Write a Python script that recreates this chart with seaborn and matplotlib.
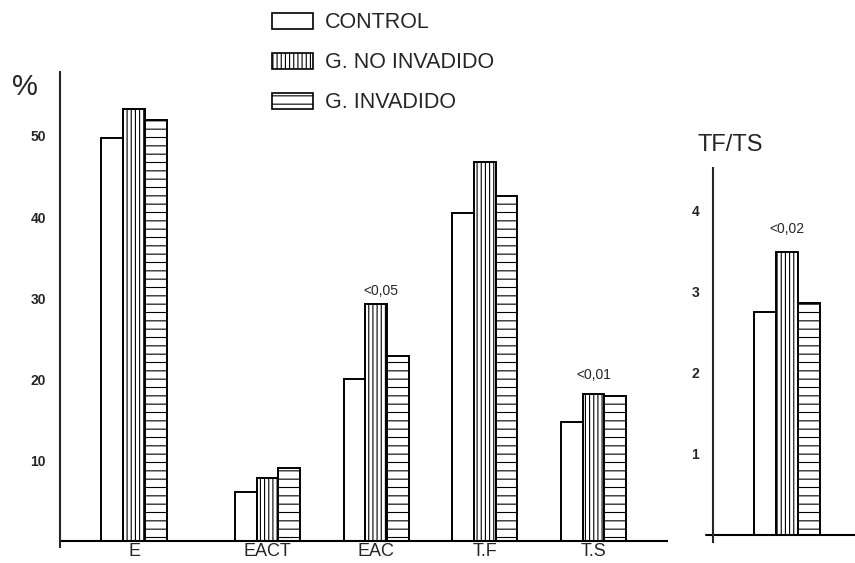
import matplotlib
matplotlib.use("Agg")
import matplotlib.pyplot as plt
from matplotlib.patches import Patch
import pandas as pd
import seaborn as sns

# ---------------- data ----------------
categories = ["E", "EACT", "EAC", "T.F", "T.S"]
groups = ["CONTROL", "G. NO INVADIDO", "G. INVADIDO"]
control = [49.8, 6.0, 20.0, 40.5, 14.7]
no_invadido = [53.3, 7.8, 29.2, 46.8, 18.2]
invadido = [52.0, 9.0, 22.8, 42.6, 17.9]

ratio_label = "TF/TS"
ratio_values = [2.75, 3.49, 2.86]   # CONTROL, G. NO INVADIDO, G. INVADIDO

p_labels = {"EAC": "<0,05", "T.S": "<0,01"}
ratio_p_label = "<0,02"

left_ticks = [10, 20, 30, 40, 50]
right_ticks = [1, 2, 3, 4]

# ---------------- layout / style ----------------
group_positions = [0.0, 1.228, 2.228, 3.228, 4.228]
hatches = ["", "||||", "--"]
p_offsets = {"EAC": (3.6, 10.0), "T.S": (0.0, 13.5), ratio_label: (0.0, 16.5)}

sns.set_style("white")
plt.rcParams["font.family"] = ["Liberation Sans", "DejaVu Sans"]
plt.rcParams["hatch.linewidth"] = 0.8
plt.rcParams["hatch.color"] = "black"

df = pd.DataFrame({
    "pos": group_positions * 3,
    "value": control + no_invadido + invadido,
    "group": [g for g in groups for _ in categories],
})
df2 = pd.DataFrame({
    "x": [ratio_label] * 3,
    "value": ratio_values,
    "group": groups,
})
palette = {g: "white" for g in groups}

fig = plt.figure(figsize=(8.55, 5.63), dpi=100)
ax = fig.add_axes([60 / 855, 1 - 546.7 / 563, 608 / 855, (546.7 - 72) / 563])
ax2 = fig.add_axes([713 / 855, 1 - 541.5 / 563, 142 / 855, (541.5 - 168) / 563])

sns.barplot(data=df, x="pos", y="value", hue="group", hue_order=groups,
            palette=palette, native_scale=True, width=0.6, dodge=True,
            edgecolor="black", linewidth=1.4, errorbar=None, legend=False,
            ax=ax)
sns.barplot(data=df2, x="x", y="value", hue="group", hue_order=groups,
            palette=palette, width=0.6, dodge=True,
            edgecolor="black", linewidth=1.4, errorbar=None, legend=False,
            ax=ax2)

for a in (ax, ax2):
    for cont, h in zip(a.containers, hatches):
        for bar in cont:
            bar.set_hatch(h)

# left panel axes styling
ax.set_xlim(-0.681, 4.913)
ax.set_ylim(-0.7, 57.9)
ax.set_xticks(group_positions, categories)
ax.set_yticks(left_ticks)
ax.set_xlabel("")
ax.set_ylabel("")
for s in ("top", "right", "bottom"):
    ax.spines[s].set_visible(False)
ax.spines["left"].set_linewidth(1.5)
ax.axhline(0, color="black", lw=1.5)
ax.tick_params(axis="y", direction="inout", length=8, width=1.3,
               labelsize=10, pad=6)
ax.tick_params(axis="x", length=0, labelsize=13, pad=-2.6)
for t in ax.get_yticklabels():
    t.set_fontweight("bold")
ax.text(25 / 855, 1 - 87 / 563, "%", transform=fig.transFigure,
        ha="center", va="center", fontsize=21)

# right panel axes styling
ax2.set_xlim(-0.681, 0.626)
ax2.set_ylim(-0.08, 4.53)
ax2.set_xticks([])
ax2.set_yticks(right_ticks)
ax2.set_xlabel("")
ax2.set_ylabel("")
for s in ("top", "right", "bottom"):
    ax2.spines[s].set_visible(False)
ax2.spines["left"].set_linewidth(1.5)
ax2.plot([-0.05, 1.0], [0, 0], transform=ax2.get_yaxis_transform(),
         clip_on=False, color="black", lw=1.5)
ax2.tick_params(axis="y", direction="inout", length=8, width=1.3,
                labelsize=10, pad=6)
for t in ax2.get_yticklabels():
    t.set_fontweight("bold")
ax2.text(730 / 855, 1 - 145 / 563, ratio_label, transform=fig.transFigure,
         ha="center", va="center", fontsize=17)

# significance annotations (above the G. NO INVADIDO bars)
for cat, lab in p_labels.items():
    bar = ax.containers[1][categories.index(cat)]
    dx, dy = p_offsets[cat]
    ax.annotate(lab, xy=(bar.get_x() + bar.get_width() / 2, bar.get_height()),
                xytext=(dx, dy), textcoords="offset points",
                ha="center", va="center", fontsize=10)
bar = ax2.containers[1][0]
dx, dy = p_offsets[ratio_label]
ax2.annotate(ratio_p_label, xy=(bar.get_x() + bar.get_width() / 2, bar.get_height()),
             xytext=(dx, dy), textcoords="offset points",
             ha="center", va="center", fontsize=10)

# legend
handles = [Patch(facecolor="white", edgecolor="black", hatch=h, lw=1.2)
           for h in hatches]
fig.legend(handles, groups, loc="upper left",
           bbox_to_anchor=(272 / 855, 1 - 12.5 / 563), frameon=False,
           fontsize=15.5, handlelength=1.9, handleheight=0.79,
           handletextpad=0.56, labelspacing=0.88, borderpad=0,
           borderaxespad=0)

fig.savefig("out.png", dpi=100)
